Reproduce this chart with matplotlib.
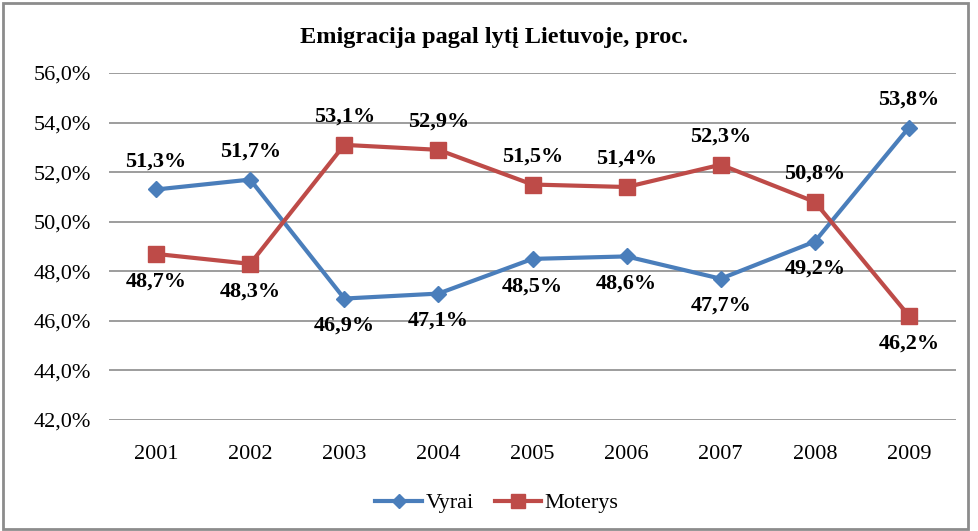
import matplotlib.pyplot as plt
from matplotlib.patches import Rectangle
from matplotlib.ticker import FuncFormatter

years = ["2001", "2002", "2003", "2004", "2005", "2006", "2007", "2008", "2009"]
vyrai = [51.3, 51.7, 46.9, 47.1, 48.5, 48.6, 47.7, 49.2, 53.8]
moterys = [48.7, 48.3, 53.1, 52.9, 51.5, 51.4, 52.3, 50.8, 46.2]
# label position: +1 above the point, -1 below
vyrai_pos = [1, 1, -1, -1, -1, -1, -1, -1, 1]
moterys_pos = [-1, -1, 1, 1, 1, 1, 1, 1, -1]

plt.rcParams["font.family"] = ["Liberation Serif", "DejaVu Serif"]

blue = "#4a7ebb"
red = "#be4b48"

fig = plt.figure(figsize=(9.79, 5.31), dpi=100)
ax = fig.add_axes([109 / 979, 1 - 420 / 531, (956 - 109) / 979, (420 - 73) / 531])

x = list(range(len(years)))
ax.plot(x, vyrai, color=blue, lw=3, marker="D", ms=8.5, label="Vyrai")
ax.plot(x, moterys, color=red, lw=3, marker="s", ms=12, label="Moterys")


def fmt(v):
    return f"{v:.1f}%".replace(".", ",")


for series, pos in ((vyrai, vyrai_pos), (moterys, moterys_pos)):
    for i, (v, p) in enumerate(zip(series, pos)):
        dy = 13 if p > 0 else -12.5
        ax.annotate(fmt(v), (i, v), xytext=(0, dy), textcoords="offset points",
                    ha="center", va="bottom" if p > 0 else "top",
                    fontsize=16, fontweight="bold")

ax.set_xlim(-0.5, len(years) - 0.5)
ax.set_ylim(42, 56)
ax.set_yticks(range(42, 57, 2))
ax.yaxis.set_major_formatter(FuncFormatter(lambda v, _: fmt(v)))
ax.set_xticks(x)
ax.set_xticklabels(years)
ax.tick_params(axis="both", length=0, labelsize=16, colors="black")
ax.tick_params(axis="y", pad=13)
ax.tick_params(axis="x", pad=18)
ax.grid(axis="y", color="#8c8c8c", lw=1.2)
ax.set_axisbelow(True)
for s in ax.spines.values():
    s.set_visible(False)

fig.text(494 / 979, 1 - 37 / 531, "Emigracija pagal lytį Lietuvoje, proc.",
         ha="center", va="center", fontsize=17.5, fontweight="bold")

leg = fig.legend(loc="center", bbox_to_anchor=(497 / 979, 1 - 503 / 531), ncol=2,
                 frameon=False, fontsize=16, handlelength=2.1, handletextpad=0.15,
                 columnspacing=0.95, markerscale=0.85)

fig.patches.append(Rectangle((3 / 979, 2 / 531), 965 / 979, 526 / 531,
                             transform=fig.transFigure, fill=False,
                             edgecolor="#8c8c8c", lw=2))

fig.savefig("out.png", dpi=100)
